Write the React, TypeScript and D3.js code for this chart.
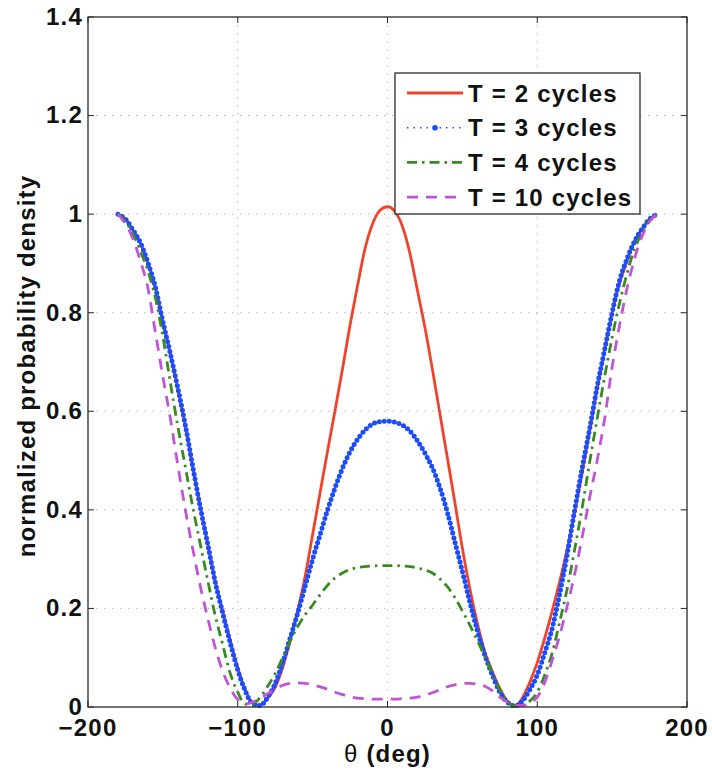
import { scaleLinear, line as d3Line, curveMonotoneX } from 'd3'

const WIDTH = 712
const HEIGHT = 772
const MARGIN = { top: 17, right: 25, bottom: 65, left: 88 }
const INNER_WIDTH = WIDTH - MARGIN.left - MARGIN.right
const INNER_HEIGHT = HEIGHT - MARGIN.top - MARGIN.bottom
const FONT = '"Liberation Sans", Arial, Helvetica, sans-serif'
const FONT_SIZE = 24
const LETTER_SPACING = 1.2

// sample angles (deg)
const THETA = [
  -180, -175, -170, -165, -160, -155, -150, -145, -140, -135, -130, -125, -120, -115, -110, -105, -100, -95, -90,
  -85, -80, -75, -70, -65, -60, -55, -50, -45, -40, -35, -30, -25, -20, -15, -10, -5, 0, 5, 10, 15, 20, 25, 30, 35,
  40, 45, 50, 55, 60, 65, 70, 75, 80, 85, 90, 95, 100, 105, 110, 115, 120, 125, 130, 135, 140, 145, 150, 155, 160,
  165, 170, 175, 180,
]

const T2 = [
  1.0, 0.99, 0.967, 0.94, 0.9, 0.85, 0.78, 0.715, 0.645, 0.57, 0.485, 0.405, 0.33, 0.255, 0.195, 0.135, 0.08, 0.035,
  0.008, 0.004, 0.018, 0.04, 0.08, 0.135, 0.195, 0.265, 0.35, 0.435, 0.52, 0.602, 0.687, 0.775, 0.855, 0.93, 0.98,
  1.008, 1.015, 1.005, 0.975, 0.92, 0.845, 0.77, 0.685, 0.595, 0.505, 0.415, 0.322, 0.24, 0.17, 0.112, 0.072, 0.038,
  0.012, 0.002, 0.018, 0.05, 0.09, 0.14, 0.195, 0.255, 0.32, 0.395, 0.475, 0.56, 0.645, 0.725, 0.8, 0.86, 0.905,
  0.945, 0.97, 0.99, 1.0,
]

const T3 = [
  1.0, 0.99, 0.968, 0.942, 0.902, 0.852, 0.782, 0.717, 0.647, 0.572, 0.487, 0.405, 0.33, 0.253, 0.19, 0.13, 0.075,
  0.033, 0.006, 0.003, 0.02, 0.048, 0.09, 0.14, 0.19, 0.245, 0.3, 0.35, 0.4, 0.445, 0.485, 0.518, 0.543, 0.562, 0.574,
  0.579, 0.58, 0.578, 0.572, 0.56, 0.54, 0.515, 0.485, 0.445, 0.395, 0.335, 0.275, 0.213, 0.155, 0.105, 0.065, 0.03,
  0.01, 0.002, 0.012, 0.035, 0.065, 0.11, 0.16, 0.23, 0.31, 0.4, 0.485, 0.565, 0.65, 0.725, 0.8, 0.866, 0.91, 0.945,
  0.97, 0.99, 1.0,
]

const T4 = [
  1.0, 0.985, 0.96, 0.925, 0.885, 0.83, 0.752, 0.658, 0.569, 0.487, 0.405, 0.33, 0.256, 0.185, 0.126, 0.068, 0.03,
  0.006, 0.006, 0.02, 0.042, 0.068, 0.1, 0.134, 0.163, 0.187, 0.207, 0.228, 0.247, 0.262, 0.272, 0.279, 0.283, 0.285,
  0.286, 0.287, 0.287, 0.287, 0.286, 0.285, 0.282, 0.278, 0.272, 0.26, 0.244, 0.222, 0.195, 0.166, 0.135, 0.102,
  0.068, 0.035, 0.012, 0.002, 0.004, 0.012, 0.03, 0.065, 0.11, 0.173, 0.24, 0.32, 0.405, 0.497, 0.585, 0.67, 0.75,
  0.82, 0.88, 0.93, 0.962, 0.987, 1.0,
]

const T10 = [
  1.0, 0.98, 0.95, 0.905, 0.85, 0.76, 0.67, 0.585, 0.49, 0.4, 0.32, 0.245, 0.18, 0.12, 0.072, 0.038, 0.015, 0.006,
  0.01, 0.018, 0.027, 0.036, 0.044, 0.048, 0.049, 0.048, 0.045, 0.041, 0.036, 0.03, 0.025, 0.021, 0.018, 0.017,
  0.016, 0.016, 0.016, 0.016, 0.017, 0.018, 0.02, 0.024, 0.029, 0.035, 0.041, 0.045, 0.048, 0.048, 0.046, 0.042,
  0.033, 0.02, 0.01, 0.004, 0.003, 0.008, 0.02, 0.05, 0.095, 0.145, 0.205, 0.27, 0.345, 0.425, 0.5, 0.585, 0.69,
  0.775, 0.85, 0.91, 0.955, 0.985, 1.0,
]

const X_TICKS = [-200, -100, 0, 100, 200]
const Y_TICKS = [0, 0.2, 0.4, 0.6, 0.8, 1, 1.2, 1.4]

interface Series {
  label: string
  values: number[]
  color: string
  dash?: string
  dots?: boolean
}

const SERIES: Series[] = [
  { label: 'T = 2 cycles', values: T2, color: '#f0432b' },
  { label: 'T = 3 cycles', values: T3, color: '#1c4dfa', dots: true },
  { label: 'T = 4 cycles', values: T4, color: '#3a8a22', dash: '10 5 2.5 5' },
  { label: 'T = 10 cycles', values: T10, color: '#bf55d6', dash: '11 8' },
]

const textProps = {
  fontFamily: FONT,
  fontWeight: 'bold' as const,
  fontSize: FONT_SIZE,
  letterSpacing: LETTER_SPACING,
  fill: '#111',
}

export default function App() {
  const x = scaleLinear().domain([-200, 200]).range([0, INNER_WIDTH])
  const y = scaleLinear().domain([0, 1.4]).range([INNER_HEIGHT, 0])

  const path = d3Line<number>()
    .x((_, i) => x(THETA[i]))
    .y((d) => y(d))
    .curve(curveMonotoneX)

  const fmtX = (v: number) => (v < 0 ? `\u2212${Math.abs(v)}` : `${v}`)

  return (
    <div style={{ position: 'absolute', left: 0, top: 0 }}>
      <svg width={WIDTH} height={HEIGHT} viewBox={`0 0 ${WIDTH} ${HEIGHT}`} style={{ display: 'block', background: '#fff' }}>
        <g transform={`translate(${MARGIN.left}, ${MARGIN.top})`}>
          {/* grid */}
          {X_TICKS.slice(1, -1).map((t) => (
            <line key={`gx${t}`} x1={x(t)} x2={x(t)} y1={0} y2={INNER_HEIGHT} stroke="#b8b8b8" strokeWidth={1} strokeDasharray="1.5 6.5" />
          ))}
          {Y_TICKS.slice(1, -1).map((t) => (
            <line key={`gy${t}`} x1={0} x2={INNER_WIDTH} y1={y(t)} y2={y(t)} stroke="#b8b8b8" strokeWidth={1} strokeDasharray="1.5 6.5" />
          ))}

          {/* curves */}
          {SERIES.map((s) =>
            s.dots ? (
              <g key={s.label}>
                <path d={path(s.values) ?? undefined} fill="none" stroke={s.color} strokeWidth={1.2} strokeDasharray="1 3" />
                <path
                  d={path(s.values) ?? undefined}
                  fill="none"
                  stroke={s.color}
                  strokeWidth={5}
                  strokeLinecap="round"
                  strokeDasharray="0 5"
                />
              </g>
            ) : (
              <path
                key={s.label}
                d={path(s.values) ?? undefined}
                fill="none"
                stroke={s.color}
                strokeWidth={2.8}
                strokeDasharray={s.dash}
              />
            ),
          )}

          {/* box */}
          <rect x={0} y={0} width={INNER_WIDTH} height={INNER_HEIGHT} fill="none" stroke="#2a2a2a" strokeWidth={1.3} />

          {/* ticks */}
          {X_TICKS.map((t) => (
            <g key={`tx${t}`}>
              <line x1={x(t)} x2={x(t)} y1={INNER_HEIGHT} y2={INNER_HEIGHT - 6} stroke="#2a2a2a" />
              <line x1={x(t)} x2={x(t)} y1={0} y2={6} stroke="#2a2a2a" />
              <text x={x(t)} y={INNER_HEIGHT + 29} textAnchor="middle" {...textProps}>
                {fmtX(t)}
              </text>
            </g>
          ))}
          {Y_TICKS.map((t) => (
            <g key={`ty${t}`}>
              <line x1={0} x2={6} y1={y(t)} y2={y(t)} stroke="#2a2a2a" />
              <line x1={INNER_WIDTH} x2={INNER_WIDTH - 6} y1={y(t)} y2={y(t)} stroke="#2a2a2a" />
              <text x={-5} y={y(t)} dy="0.33em" textAnchor="end" {...textProps}>
                {t}
              </text>
            </g>
          ))}

          {/* axis labels */}
          <text x={INNER_WIDTH / 2} y={INNER_HEIGHT + 55} textAnchor="middle" {...textProps}>
            <tspan fontWeight="normal">θ</tspan> (deg)
          </text>
          <text
            transform={`translate(${26 - MARGIN.left}, ${INNER_HEIGHT / 2 + 4}) rotate(-90)`}
            textAnchor="middle"
            dy="0.36em"
            {...textProps}
          >
            normalized probability density
          </text>
        </g>

        {/* legend */}
        <g transform="translate(395, 73)">
          <rect x={0} y={0} width={245} height={141} fill="#fff" stroke="#2a2a2a" strokeWidth={1.3} />
          {SERIES.map((s, i) => {
            const cy = 20 + i * 34.7
            return (
              <g key={s.label}>
                {s.dots ? (
                  <>
                    <line x1={12} x2={68} y1={cy} y2={cy} stroke={s.color} strokeWidth={1.6} strokeDasharray="1.5 5" />
                    <circle cx={40} cy={cy} r={2.8} fill={s.color} />
                  </>
                ) : (
                  <line x1={12} x2={68} y1={cy} y2={cy} stroke={s.color} strokeWidth={2.8} strokeDasharray={s.dash} />
                )}
                <text x={73} y={cy} dy="0.36em" {...textProps}>
                  {s.label}
                </text>
              </g>
            )
          })}
        </g>
      </svg>
    </div>
  )
}
